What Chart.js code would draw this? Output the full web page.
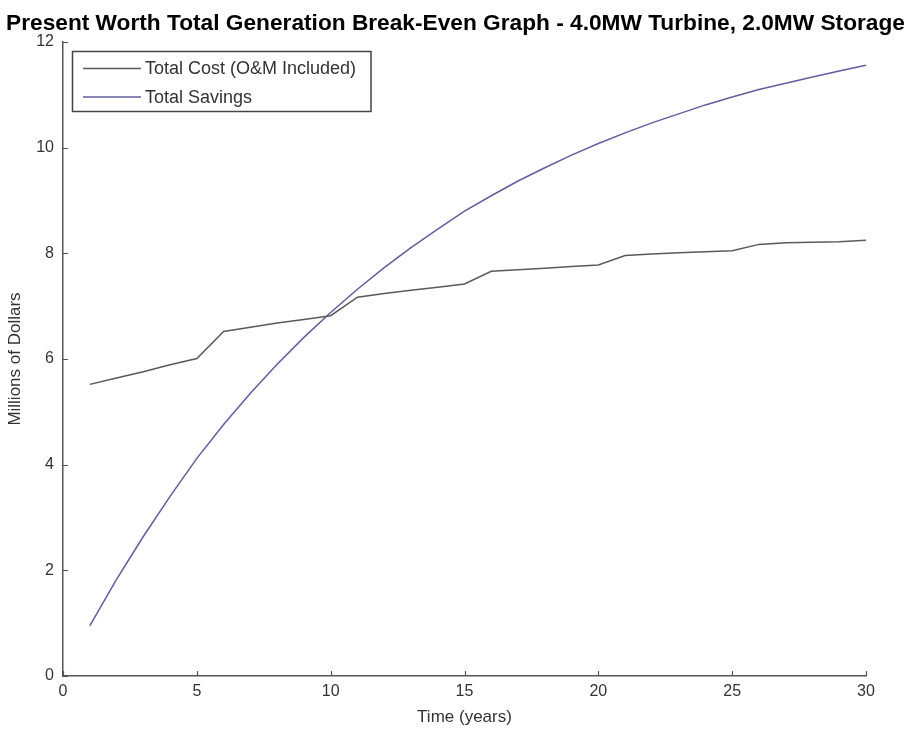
<!DOCTYPE html>
<html>
<head>
<meta charset="utf-8">
<script src="https://cdn.jsdelivr.net/npm/chart.js@4"></script>
<style>
html,body{margin:0;padding:0;background:#fff;}
#wrap{width:911px;height:730px;position:relative;}
</style>
</head>
<body>
<div id="wrap"><canvas id="c" width="911" height="730"></canvas></div>
<script>
const titleText = "Present Worth Total Generation Break-Even Graph - 4.0MW Turbine, 2.0MW Storage";
const xTitle = "Time (years)";
const yTitle = "Millions of Dollars";
const seriesNames = ["Total Cost (O&M Included)", "Total Savings"];
const years = [1,2,3,4,5,6,7,8,9,10,11,12,13,14,15,16,17,18,19,20,21,22,23,24,25,26,27,28,29,30];
const totalCost = [5.52,5.64,5.76,5.89,6.01,6.52,6.60,6.68,6.75,6.82,7.17,7.24,7.30,7.36,7.42,7.66,7.69,7.72,7.75,7.78,7.96,7.99,8.01,8.03,8.05,8.17,8.20,8.21,8.22,8.25];
const totalSavings = [0.95,1.83,2.64,3.40,4.12,4.76,5.35,5.90,6.41,6.88,7.32,7.73,8.11,8.46,8.80,9.09,9.37,9.62,9.86,10.08,10.28,10.47,10.64,10.81,10.96,11.10,11.22,11.34,11.45,11.56];
const xTicks = [0,5,10,15,20,25,30];
const yTicks = [0,2,4,6,8,10,12];

const costColor = '#5a5a5a';
const savingsColor = '#5f5f9e';
const axisColor = '#555555';
const FONT = "'Liberation Sans', Arial, sans-serif";

const toPts = (vals) => vals.map((v, i) => ({x: years[i], y: v}));

const inwardTicks = {
  id: 'inwardTicks',
  afterDraw(chart) {
    const {ctx, chartArea} = chart;
    const xs = chart.scales.x, ys = chart.scales.y;
    ctx.save();
    ctx.strokeStyle = axisColor;
    ctx.lineWidth = 1.2;
    ctx.beginPath();
    xTicks.forEach(t => {
      const px = Math.round(xs.getPixelForValue(t)) + 0.5;
      ctx.moveTo(px, chartArea.bottom);
      ctx.lineTo(px, chartArea.bottom - 5);
    });
    yTicks.forEach(t => {
      const py = Math.round(ys.getPixelForValue(t)) + 0.5;
      ctx.moveTo(chartArea.left, py);
      ctx.lineTo(chartArea.left + 5, py);
    });
    ctx.stroke();
    ctx.restore();
  }
};

const boxLegend = {
  id: 'boxLegend',
  afterDraw(chart) {
    const {ctx} = chart;
    const bx = 72.5, by = 51.5, bw = 298.5, bh = 60;
    ctx.save();
    ctx.fillStyle = '#ffffff';
    ctx.fillRect(bx, by, bw, bh);
    ctx.strokeStyle = '#444444';
    ctx.lineWidth = 1.5;
    ctx.strokeRect(bx, by, bw, bh);
    ctx.font = "18px " + FONT;
    ctx.textBaseline = 'middle';
    ctx.textAlign = 'left';
    chart.data.datasets.forEach((ds, i) => {
      const y = 68.5 + i * 28.5;
      ctx.strokeStyle = ds.borderColor;
      ctx.lineWidth = 1.5;
      ctx.beginPath();
      ctx.moveTo(83, y);
      ctx.lineTo(141, y);
      ctx.stroke();
      ctx.fillStyle = '#333333';
      ctx.fillText(ds.label, 145, y + 1);
    });
    ctx.restore();
  }
};

new Chart(document.getElementById('c'), {
  type: 'line',
  data: {
    datasets: [
      {label: seriesNames[0], data: toPts(totalCost), borderColor: costColor, backgroundColor: costColor, borderWidth: 1.5, pointRadius: 0, tension: 0, fill: false},
      {label: seriesNames[1], data: toPts(totalSavings), borderColor: savingsColor, backgroundColor: savingsColor, borderWidth: 1.5, pointRadius: 0, tension: 0, fill: false}
    ]
  },
  options: {
    responsive: false,
    animation: false,
    devicePixelRatio: 1,
    layout: {padding: {left: 0, right: 0, top: 0, bottom: 0}},
    plugins: {
      legend: {display: false},
      tooltip: {enabled: false},
      title: {
        display: true,
        text: titleText,
        color: '#000000',
        font: {family: FONT, size: 22.7, weight: 'bold'},
        padding: {top: 10.5, bottom: 4.3}
      }
    },
    scales: {
      x: {
        type: 'linear',
        min: 0, max: 30,
        afterBuildTicks: (s) => { s.ticks = xTicks.map(v => ({value: v})); },
        afterFit: (s) => { s.height = 54; s.paddingRight = 45; },
        border: {display: true, color: axisColor, width: 1.5},
        grid: {display: true, drawOnChartArea: false, drawTicks: false},
        ticks: {color: '#333333', font: {family: FONT, size: 16}, padding: 6, maxRotation: 0},
        title: {display: true, text: xTitle, color: '#333333', font: {family: FONT, size: 17}, padding: {top: 0, bottom: 2}}
      },
      y: {
        type: 'linear',
        min: 0, max: 12,
        afterBuildTicks: (s) => { s.ticks = yTicks.map(v => ({value: v})); },
        afterFit: (s) => { s.width = 63; },
        border: {display: true, color: axisColor, width: 1.5},
        grid: {display: true, drawOnChartArea: false, drawTicks: false},
        ticks: {color: '#333333', font: {family: FONT, size: 16}, padding: 9},
        title: {display: true, text: yTitle, color: '#333333', font: {family: FONT, size: 17}, padding: {top: 5, bottom: 0}}
      }
    }
  },
  plugins: [inwardTicks, boxLegend]
});
</script>
</body>
</html>
